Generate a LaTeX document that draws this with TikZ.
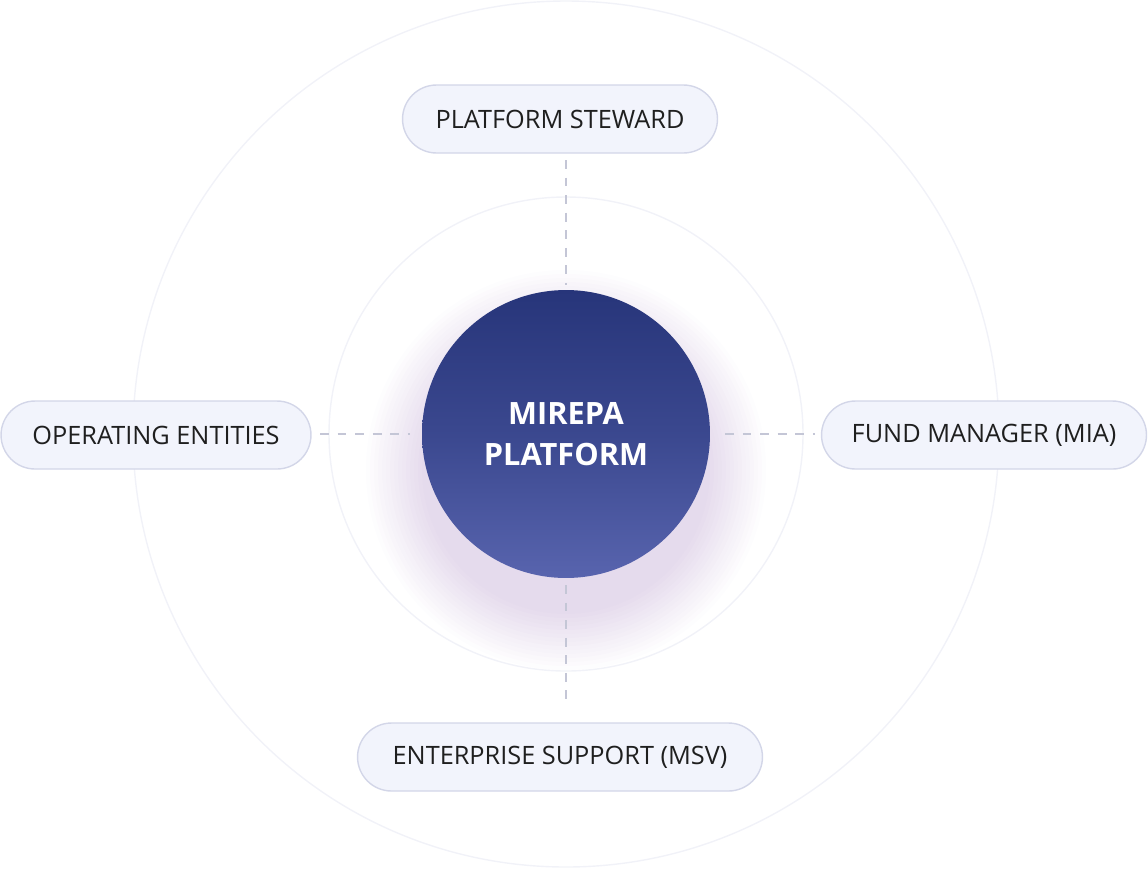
\documentclass[tikz,border=0pt]{standalone}
\usepackage{fontspec}
\setmainfont{Open Sans}
\usetikzlibrary{positioning}
\definecolor{pillfill}{HTML}{F2F4FC}
\definecolor{pilldraw}{HTML}{D3D6E8}
\definecolor{ringcol}{HTML}{F1F2F8}
\definecolor{dashcol}{HTML}{C4C6D6}
\definecolor{hubtop}{HTML}{27357A}
\definecolor{hubbot}{HTML}{5864AE}
\tikzset{
  pill/.style={rounded corners=0.68cm, draw=pilldraw, line width=0.8pt, fill=pillfill,
    minimum height=1.36cm, inner xsep=0.6cm, font=\fontsize{14.4}{17}\selectfont, text=black!88},
  link/.style={dashcol, line width=0.8pt, dash pattern=on 5pt off 5pt},
  ring/.style={ringcol, line width=0.8pt}
}
\begin{document}
\begin{tikzpicture}[x=0.02cm,y=-0.02cm]
\useasboundingbox (0,0) rectangle (1148,870);
% rings
\draw[ring] (566,434) circle (433);
\draw[ring] (566,434) circle (237);
% glow
\foreach \r in {144,148,...,200}
  \fill[hubbot!50!violet, opacity=0.012] (566,470) circle (\r);
% hub
\node[circle, minimum size=5.76cm, top color=hubtop, bottom color=hubbot,
  middle color=hubtop!60!hubbot, text=white, align=center,
  font=\bfseries\fontsize{17.5}{23}\selectfont] (hub) at (566,434) {MIREPA\\PLATFORM};
% actors
\node[pill, minimum width=6.3cm] (steward) at (560,119) {PLATFORM STEWARD};
\node[pill, minimum width=6.2cm] (operating) at (156,435) {OPERATING ENTITIES};
\node[pill, minimum width=6.5cm] (fund) at (984,435) {FUND MANAGER (MIA)};
\node[pill, minimum width=8.1cm] (support) at (560,757) {ENTERPRISE SUPPORT (MSV)};
% dashed links
\coordinate (s1) at (566,160); \coordinate (s2) at (566,285);
\coordinate (e1) at (566,585); \coordinate (e2) at (566,705);
\coordinate (o1) at (320,434); \coordinate (o2) at (410,434);
\coordinate (f1) at (725,434); \coordinate (f2) at (815,434);
\draw[link] (s1) -- (s2);
\draw[link] (e1) -- (e2);
\draw[link] (o1) -- (o2);
\draw[link] (f1) -- (f2);
\end{tikzpicture}
\end{document}
